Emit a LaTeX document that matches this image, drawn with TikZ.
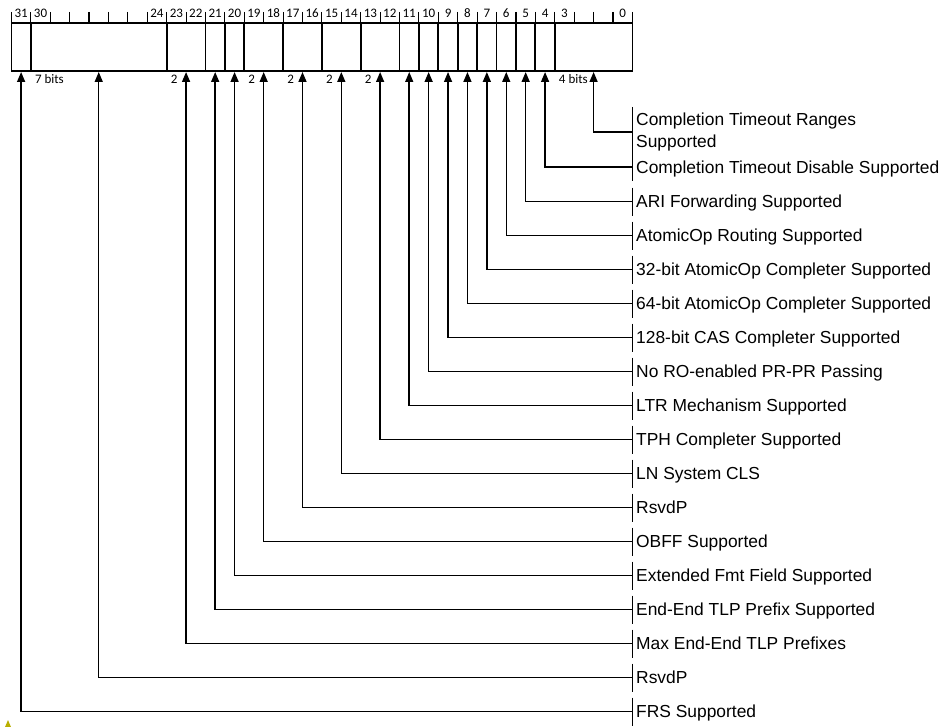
\documentclass[tikz,border=0pt]{standalone}
\usepackage{fontspec}
\setmainfont{Liberation Sans}
\newfontfamily\calib{Carlito}
\usetikzlibrary{arrows.meta}
\definecolor{markolive}{RGB}{185,175,0}
\begin{document}
\begin{tikzpicture}[x=1pt,y=-1pt,
  regbox/.style={line width=1.8pt},
  bittick/.style={line width=1.1pt},
  arr/.style={line width=1.5pt,-{Triangle[width=8pt,length=10pt]}},
  lbar/.style={line width=1.5pt},
  lbl/.style={font=\fontsize{17.4}{22}\selectfont,inner sep=0pt,anchor=base west},
  bitnum/.style={font=\calib\fontsize{13}{14}\selectfont,inner sep=0pt,anchor=base},
  fieldw/.style={font=\calib\fontsize{13}{14}\selectfont,inner sep=0pt,anchor=base west}]
\def\W{19.406}
\def\R{632.4}
\useasboundingbox (0,0) rectangle (942,727);
% ticks
\foreach \b in {0,...,32} \draw[bittick] ({\R-\b*\W},12) -- ({\R-\b*\W},22.7);
% register box
\draw[regbox] ({\R-32*\W},22.7) rectangle (\R,71);
\foreach \b in {31,24,22,21,20,18,16,14,12,11,10,9,8,7,6,5,4}
  \draw[regbox] ({\R-\b*\W},22.7) -- ({\R-\b*\W},71);
% bit numbers
\foreach \b in {31,30,24,23,22,21,20,19,18,17,16,15,14,13,12,11,10,9,8,7,6,5,4,3,0}
  \node[bitnum] (n\b) at ({\R-(\b+0.5)*\W},17.5) {\b};
% field widths
\node[fieldw] (w30) at ({\R-31*\W+4},84) {7 bits};
\node[fieldw] (w23) at ({\R-24*\W+4},84) {2};
\node[fieldw] (w19) at ({\R-20*\W+4},84) {2};
\node[fieldw] (w17) at ({\R-18*\W+4},84) {2};
\node[fieldw] (w15) at ({\R-16*\W+4},84) {2};
\node[fieldw] (w13) at ({\R-14*\W+4},84) {2};
\node[fieldw] (w3) at ({\R-4*\W+4},84) {4 bits};
% first label (two lines)
\node[lbl,anchor=west,align=left] (L1) at (636,131.7) {Completion Timeout Ranges\\Supported};
\draw[lbar] (\R,107) -- (\R,181);
\coordinate (h1) at (\R,132);
\coordinate (t1) at ({\R-2*\W},72);
\draw[arr] (h1) -| (t1);
% other labels
\foreach \k/\c/\y/\t in {
 2/4.5/167/Completion Timeout Disable Supported,
 3/5.5/201.7/ARI Forwarding Supported,
 4/6.5/235.7/AtomicOp Routing Supported,
 5/7.5/269.7/32-bit AtomicOp Completer Supported,
 6/8.5/303.7/64-bit AtomicOp Completer Supported,
 7/9.5/337.7/128-bit CAS Completer Supported,
 8/10.5/371.7/No RO-enabled PR-PR Passing,
 9/11.5/405.7/LTR Mechanism Supported,
 10/13/439.7/TPH Completer Supported,
 11/15/473.7/LN System CLS,
 12/17/507.7/RsvdP,
 13/19/541.7/OBFF Supported,
 14/20.5/575.7/Extended Fmt Field Supported,
 15/21.5/609.7/End-End TLP Prefix Supported,
 16/23/643.7/Max End-End TLP Prefixes,
 17/27.5/677.7/RsvdP,
 18/31.5/711.7/FRS Supported}{
  \node[lbl] (L\k) at (636,{\y+6.2}) {\t};
  \coordinate (h\k) at (\R,\y);
  \coordinate (t\k) at ({\R-\c*\W},72);
  \draw[arr] (h\k) -| (t\k);
}
\foreach \y in {201.7,235.7,269.7,303.7,337.7,371.7,405.7,439.7,473.7,507.7,541.7,575.7,609.7,643.7,677.7,711.7}
  \draw[lbar] (\R,{\y-14}) -- (\R,{\y+14});
% small marker bottom-left
\fill[markolive] (5,727) -- (11,727) -- (8,720) -- cycle;
\end{tikzpicture}
\end{document}
